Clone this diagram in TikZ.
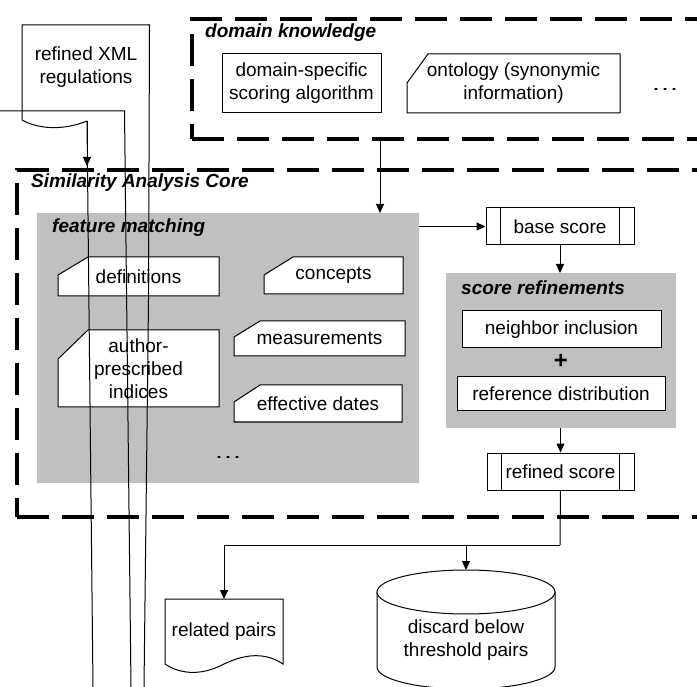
\documentclass[tikz,border=0pt]{standalone}
\usepackage{fontspec}
\setmainfont{Liberation Sans}
\usetikzlibrary{arrows.meta}
\definecolor{boxgray}{RGB}{192,192,192}
\pgfdeclarelayer{back}
\pgfdeclarelayer{mid}
\pgfsetlayers{back,mid,main}
\newcommand\cardoutline[3]{%
  \begin{pgfonlayer}{mid}
  \path[cardline] ([xshift=#2pt]#1.north west) -- (#1.north east) -- (#1.south east) -- (#1.south west) -- ([yshift=-#3pt]#1.north west) -- cycle;
  \end{pgfonlayer}}
\begin{document}
\begin{tikzpicture}[x=1pt,y=-1pt,
  every node/.style={font=\fontsize{19}{23}\selectfont, inner sep=0pt, align=center},
  thinline/.style={line width=1pt, draw=black},
  arr/.style={thinline, -{Triangle[length=9pt,width=8pt]}},
  dashbox/.style={draw=black, line width=4pt, dash pattern=on 32pt off 13pt},
  graybox/.style={fill=boxgray, draw=none, outer sep=0pt},
  plainbox/.style={draw=black, line width=1pt, fill=white},
  textbox/.style={draw=none, outer sep=0pt},
  titletext/.style={font=\fontsize{19}{23}\selectfont\bfseries\itshape, anchor=west},
  cardline/.style={draw=black, line width=1pt, fill=white}
]
\clip (0,0) rectangle (697,687);

% ---------- containers ----------
\begin{pgfonlayer}{back}
  \node[dashbox, minimum width=540pt, minimum height=120pt, anchor=north west] (dk) at (190,17) {};
  \node[dashbox, minimum width=720pt, minimum height=347pt, anchor=north west] (core) at (15,168) {};
  \node[graybox, minimum width=382pt, minimum height=270pt] (fm) at (228,348) {};
  \node[graybox, minimum width=230pt, minimum height=155pt] (sr) at (561,350.5) {};
\end{pgfonlayer}

\node[titletext] (dktitle) at (205,33) {domain knowledge};
\node[titletext] (coretitle) at (31,183) {Similarity Analysis Core};
\node[titletext] (fmtitle) at (52,228) {feature matching};
\node[titletext] (srtitle) at (461,288) {score refinements};

% ---------- domain knowledge ----------
\node[plainbox, minimum width=159pt, minimum height=59pt] (ks) at (301.5,83.5) {domain-specific\\scoring algorithm};
\node[textbox, minimum width=213pt, minimum height=59pt] (onto) at (513.5,83.5) {ontology (synonymic\\information)};
\cardoutline{onto}{21}{29}
\node[textbox, xscale=1.5] (dkdots) at (665,89) {…};

% ---------- feature matching ----------
\node[textbox, minimum width=161pt, minimum height=39pt] (def) at (138.5,276.5) {definitions};
\cardoutline{def}{30}{18}
\node[textbox, minimum width=139pt, minimum height=37pt] (conc) at (333.5,275.5) {concepts};
\cardoutline{conc}{29}{18}
\node[textbox, minimum width=171pt, minimum height=35pt] (meas) at (319.5,338.5) {measurements};
\cardoutline{meas}{26}{16}
\node[textbox, minimum width=168pt, minimum height=37pt] (eff) at (318,403.5) {effective dates};
\cardoutline{eff}{26}{17}
\node[textbox, minimum width=161pt, minimum height=77pt] (auth) at (138.5,368.5) {author-\\prescribed\\indices};
\cardoutline{auth}{30}{29}
\node[textbox, xscale=1.5] (fmdots) at (228,457) {…};

% ---------- scores ----------
\node[plainbox, minimum width=148pt, minimum height=37pt] (bs) at (560,226.5) {base score};
\draw[thinline] ([xshift=15pt]bs.north west) -- ([xshift=15pt]bs.south west);
\draw[thinline] ([xshift=-15pt]bs.north east) -- ([xshift=-15pt]bs.south east);
\node[plainbox, minimum width=199pt, minimum height=37pt] (ni) at (561.5,329.5) {neighbor inclusion};
\node[textbox, font=\fontsize{24}{24}\selectfont\bfseries] (plus) at (561,361) {+};
\node[plainbox, minimum width=208pt, minimum height=34pt] (rd) at (561,394) {reference distribution};
\node[plainbox, minimum width=147pt, minimum height=37pt] (rs) at (560.5,471.5) {refined score};
\draw[thinline] ([xshift=15pt]rs.north west) -- ([xshift=15pt]rs.south west);
\draw[thinline] ([xshift=-15pt]rs.north east) -- ([xshift=-15pt]rs.south east);

% ---------- outputs ----------
\node[textbox, minimum width=118pt, minimum height=65pt] (rp) at (224,631.5) {\raisebox{4pt}{related pairs}};
\begin{pgfonlayer}{mid}
  \path[cardline] (rp.south west) -- (rp.north west) -- (rp.north east) -- (rp.south east)
     .. controls (262,650) and (240,656) .. (222,665)
     .. controls (200,676) and (180,674) .. (rp.south west) -- cycle;
  \path[cardline] (377,592) -- (377,667) arc[start angle=180, end angle=360, x radius=89pt, y radius=22pt] -- (555,592) -- cycle;
  \path[cardline] (466,592) ellipse[x radius=89pt, y radius=22pt];
\end{pgfonlayer}
\node[textbox] (cyl) at (466,640) {discard below\\threshold pairs};
\coordinate (cyltop) at (466,570);

% ---------- connectors ----------
\coordinate (kx) at (380,0);
\draw[arr] (dk.south -| kx) -- (fm.north -| kx);
\draw[arr] (fm.east |- bs.west) -- (bs.west);
\draw[arr] (bs.south) -- (bs.south |- sr.north);
\draw[arr] (sr.south -| rs.north) -- (rs.north);
\coordinate (split) at (560,545);
\draw[thinline] (rs.south) -- (split);
\draw[arr] (split) -| (rp.north);
\draw[arr] (split -| cyltop) -- (cyltop);

% ---------- refined XML regulations (broken document shape) ----------
\node[textbox] (xml) at (86,67) {refined XML\\regulations};
\coordinate (xmlwave) at (87,121);
\coordinate (xmlin) at (87,166);
\coordinate (tailA) at (93,687);
\coordinate (inL) at (0,111);
\coordinate (bendL) at (124.5,111);
\coordinate (tailB) at (131,687);
\coordinate (xmlTR) at (149.5,25);
\coordinate (tailC) at (144,687);
\draw[thinline] (xmlwave) .. controls (65,130) and (40,130) .. (22,120) -- (22,25) -- (xmlTR) -- (148.5,300) -- (tailC);
\draw[arr] (xmlwave) -- (xmlin);
\draw[thinline] (xmlwave) -- (tailA);
\draw[thinline] (inL) -- (bendL) -- (tailB);
\end{tikzpicture}
\end{document}
